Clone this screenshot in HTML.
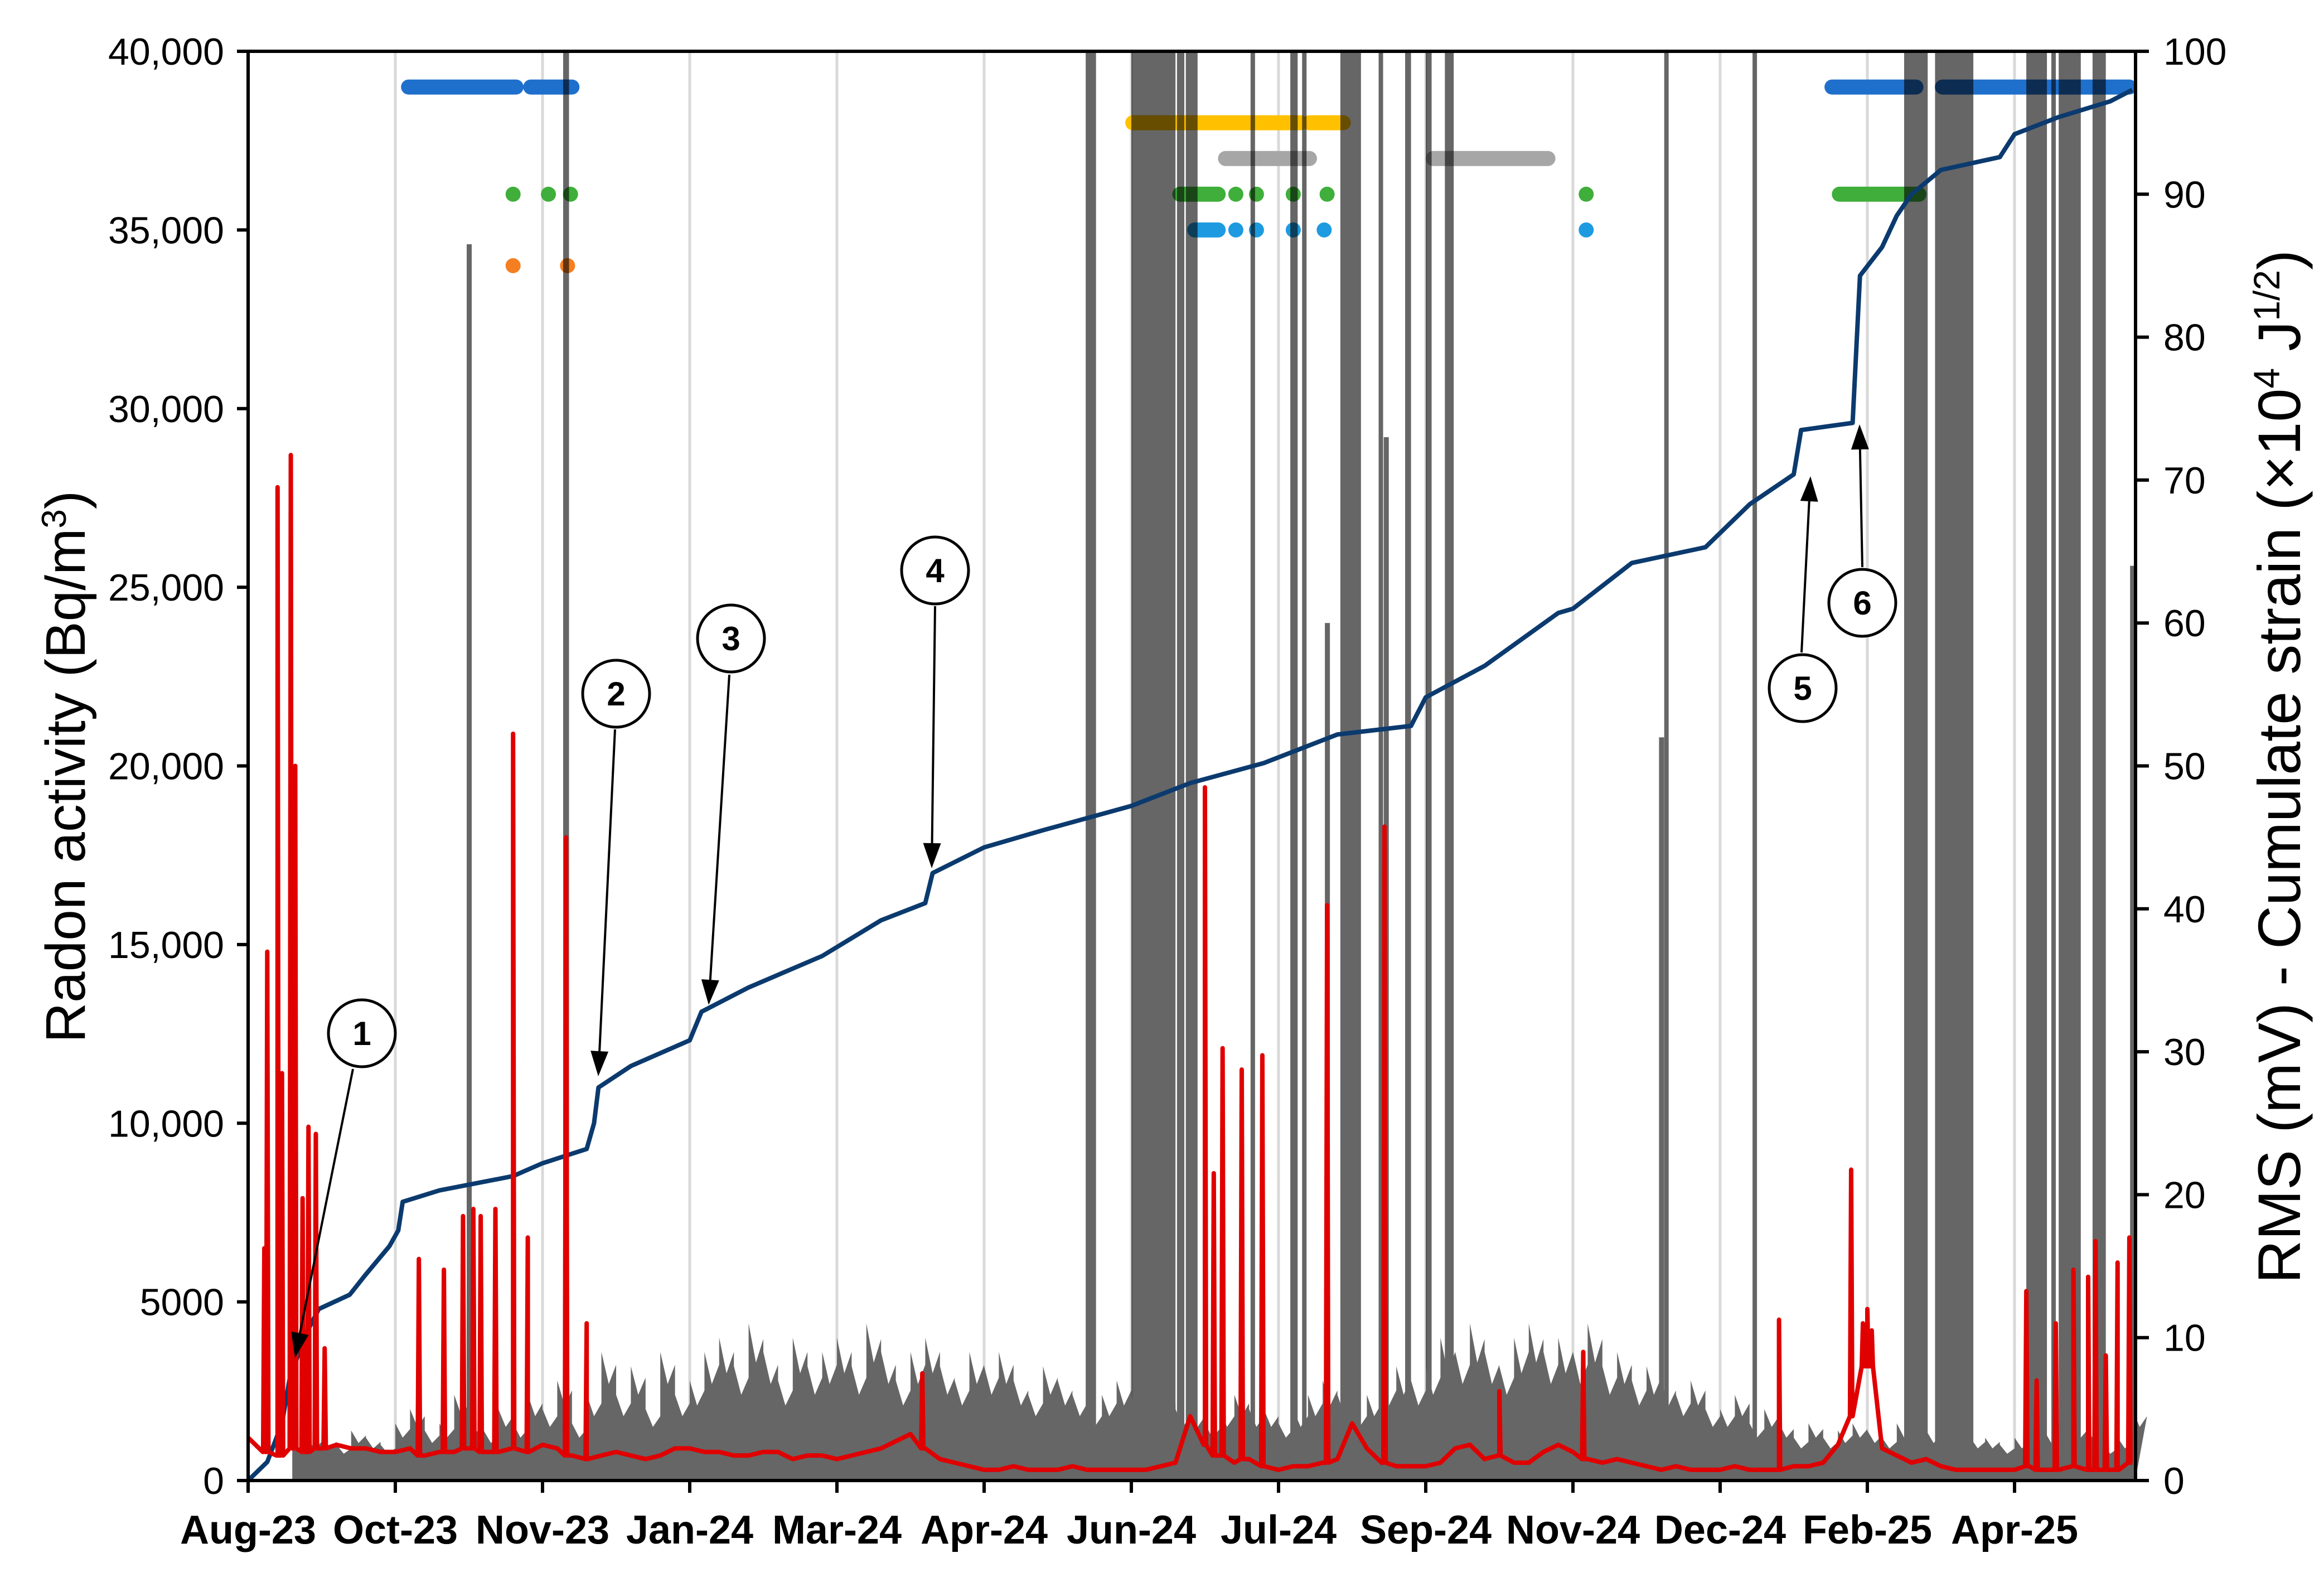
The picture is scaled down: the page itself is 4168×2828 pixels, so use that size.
<!DOCTYPE html>
<html><head><meta charset="utf-8"><style>
html,body{margin:0;padding:0;background:#fff;}
svg{display:block;font-family:"Liberation Sans",Arial,sans-serif;}
</style></head><body>
<svg id="chart" width="4168" height="2828" viewBox="0 0 4168 2828" xmlns="http://www.w3.org/2000/svg">
<g id="grid"></g>
<g id="markers"></g>
<g id="bars"></g>
<g id="gray"></g>
<g id="blue"></g>
<g id="red"></g>
<g id="axes"></g>
<g id="annot"></g>
<text transform="translate(152,1375) rotate(-90)" text-anchor="middle" font-size="100">Radon activity (Bq/m<tspan baseline-shift="super" font-size="62">3</tspan>)</text>
<text transform="translate(4125,1375) rotate(-90)" text-anchor="middle" font-size="108">RMS (mV) - Cumulate strain (×10<tspan baseline-shift="super" font-size="66">4</tspan> J<tspan baseline-shift="super" font-size="66">1/2</tspan>)</text>
</svg>
<script>
const xTickLabels=["Aug-23","Oct-23","Nov-23","Jan-24","Mar-24","Apr-24","Jun-24","Jul-24","Sep-24","Nov-24","Dec-24","Feb-25","Apr-25"];
const leftTicks=[0,5000,10000,15000,20000,25000,30000,35000,40000];
const leftTickLabels=["0","5000","10,000","15,000","20,000","25,000","30,000","35,000","40,000"];
const rightTicks=[0,10,20,30,40,50,60,70,80,90,100];
const strainT=[0,0.13,0.23,0.28,0.38,0.48,0.69,0.79,0.96,1.02,1.05,1.3,1.8,2.0,2.3,2.35,2.38,2.6,3.0,3.08,3.4,3.9,4.3,4.6,4.65,5.0,5.4,6.0,6.4,6.9,7.4,7.9,8.0,8.4,8.9,9.0,9.4,9.9,10.2,10.5,10.55,10.9,10.95,11.1,11.2,11.3,11.5,11.9,12.0,12.3,12.65,12.8];
const strainV=[0,1.3,4,7,10,12,13,14.3,16.4,17.5,19.5,20.3,21.3,22.2,23.2,25,27.5,29,30.8,32.8,34.5,36.7,39.2,40.4,42.5,44.3,45.5,47.2,48.8,50.2,52.2,52.8,54.8,57,60.7,61,64.2,65.3,68.3,70.4,73.5,74,84.3,86.3,88.5,90,91.7,92.6,94.2,95.4,96.5,97.3];
const radonBase=[1200,800,700,900,800,900,1000,900,900,800,800,900,700,800,800,900,800,800,900,800,1000,900,700,600,700,800,700,600,700,900,900,800,800,700,700,800,800,600,700,700,600,700,800,900,1100,1300,900,600,500,400,300,300,400,300,300,300,400,300,300,300,300,300,400,500,1800,1000,700,500,600,400,300,400,400,500,600,1600,900,500,400,400,400,500,900,1000,600,700,500,500,800,1000,800,600,500,600,500,400,300,400,300,300,300,400,300,300,300,400,400,500,1000,1800,3200,900,700,500,600,400,300,300,300,300,300,400,300,300,400,300,300,300,500];
const radonSpikeT=[0.11,0.13,0.2,0.23,0.29,0.32,0.37,0.41,0.46,0.52,1.16,1.33,1.46,1.53,1.58,1.68,1.8,1.9,2.16,2.3,4.58,6.5,6.56,6.62,6.75,6.89,7.33,7.72,8.5,9.07,10.4,10.89,10.97,11.0,11.03,12.08,12.15,12.28,12.4,12.5,12.55,12.62,12.7,12.78];
const radonSpikeV=[6500,14800,27800,11400,28700,20000,7900,9900,9700,3700,6200,5900,7400,7600,7400,7600,20900,6800,18000,4400,3000,19400,8600,12100,11500,11900,16100,18300,2500,3600,4500,8700,4400,4800,4200,5300,2800,4400,5900,5700,6700,3500,6100,6800];
const rmsBand=[0,0,0,2.5,3,3,2.5,3.5,3,2.5,4,5,3.5,4,6,4.5,3.5,5,4,6,5,7,4,6,9,6,8,5,9,6,7,9,10,8,11,9,7,10,8,9,10,8,11,9,7,9,10,8,7,9,8,9,7,6,8,7,6,5,6,7,6,5,6,5,5,4,5,6,5,5,4,5,6,7,6,5,6,7,8,7,8,10,9,11,9,8,10,11,9,10,9,11,8,9,7,8,7,6,7,5,5,6,4,5,4,3,4,3,3.5,4,3.5,3,4,3,3.5,3,2.5,3,3,2.5,3,4,3.5,3,4,3.5,2.5,3,5];
const satStart=[2.14,5.69,6.0,6.31,6.37,6.81,7.08,7.16,7.42,7.68,7.86,8.0,8.13,9.62,10.22,11.25,11.46,12.08,12.25,12.3,12.53];
const satEnd=[2.18,5.76,6.3,6.36,6.45,6.84,7.13,7.19,7.56,7.71,7.9,8.04,8.19,9.64,10.25,11.41,11.72,12.22,12.28,12.45,12.62];
const rmsSpikeT=[1.5,7.33,7.73,9.6,12.8];
const rmsSpikeV=[86.5,60,73,52,64];
const evBlue=[[1.09,1.82],[1.92,2.2],[10.76,11.33],[11.51,12.78]];
const evYellow=[[6.01,7.15],[7.21,7.44]];
const evGray=[[6.64,7.21],[8.05,8.83]];
const evGreen=[[1.8,1.8],[2.04,2.04],[2.19,2.19],[6.33,6.59],[6.71,6.71],[6.85,6.85],[7.1,7.1],[7.33,7.33],[9.09,9.09],[10.81,11.35]];
const evCyan=[[6.43,6.59],[6.71,6.71],[6.85,6.85],[7.1,7.1],[7.31,7.31],[9.09,9.09]];
const evOrange=[[1.8,1.8],[2.17,2.17]];

const X0=445,X1=3830,TW=264,Y0=2655,Y1=92;
const xs=t=>X0+t*TW;
const yL=v=>Y0-(v/40000)*(Y0-Y1);
const yR=v=>Y0-(v/100)*(Y0-Y1);
const NS="http://www.w3.org/2000/svg";
function mk(tag,parent,attrs){const e=document.createElementNS(NS,tag);for(const k in attrs)e.setAttribute(k,attrs[k]);document.getElementById(parent).appendChild(e);return e;}

xTickLabels.forEach((l,i)=>{if(i===0)return;
 const g=mk('line','grid',{x1:xs(i),x2:xs(i),y1:Y1,y2:Y0,stroke:'#d9d9d9','stroke-width':5});
 
 });

let d=`M${xs(0)},${Y0}`;
rmsBand.forEach((v,i)=>{const a=xs(i*0.1),b=xs(i*0.1+0.1);d+=`L${a},${yR(v)}L${(a+b)/2},${yR(v*0.75)}L${b},${yR(v*0.9)}`;});
d+=`L${xs(12.82)},${Y0}Z`;
const band=mk('path','gray',{d:d,fill:'#666666'});


rmsSpikeT.forEach((t,i)=>{const r=mk('rect','gray',{x:xs(t)-4,y:yR(rmsSpikeV[i]),width:9,height:Y0-yR(rmsSpikeV[i]),fill:'#666666'});
 
 });

function row(arr,val,color,name){arr.forEach(s=>{const l=mk('line','markers',{x1:xs(s[0]),x2:xs(s[1]),y1:yL(val),y2:yL(val),stroke:color,'stroke-width':27,'stroke-linecap':'round'});
 
 });}
row(evBlue,39000,'#1f6fcc','event-row-blue');
row(evYellow,38000,'#ffc000','event-row-yellow');
row(evGray,37000,'#a6a6a6','event-row-gray');
row(evGreen,36000,'#3fae3a','event-row-green');
row(evCyan,35000,'#1e9be0','event-row-cyan');
row(evOrange,34000,'#f47f20','event-row-orange');

satStart.forEach((s,i)=>{const r=mk('rect','bars',{x:xs(s),y:Y1,width:Math.max(8,xs(satEnd[i])-xs(s)),height:Y0-Y1,fill:'#000','fill-opacity':0.6});
 
 });

const bl=mk('polyline','blue',{points:strainT.map((t,i)=>`${xs(t)},${yR(strainV[i])}`).join(' '),fill:'none',stroke:'#0b3a6e','stroke-width':8,'stroke-linejoin':'round'});



let pts=radonBase.map((v,i)=>[i*0.1,v]);
radonSpikeT.forEach((t,i)=>{const b=radonBase[Math.min(radonBase.length-1,Math.round(t*10))];pts.push([t-0.008,b],[t,radonSpikeV[i]],[t+0.008,b]);});
pts.sort((a,b)=>a[0]-b[0]);
const rl=mk('polyline','red',{points:pts.map(p=>`${xs(Math.min(p[0],12.8))},${yL(p[1])}`).join(' '),fill:'none',stroke:'#e00000','stroke-width':8,'stroke-linejoin':'round'});



[[X0,Y1,X1,Y1,'top-axis-line'],[X0,Y1,X0,Y0,'left-axis-line'],[X0,Y0,X1,Y0,'x-axis-line'],[X1,Y1,X1,Y0,'right-axis-line']].forEach(a=>{
 const l=mk('line','axes',{x1:a[0],y1:a[1],x2:a[2],y2:a[3],stroke:'#000','stroke-width':6});
 
 });
leftTicks.forEach((v,i)=>{const y=yL(v);
 const l=mk('line','axes',{x1:X0-20,x2:X0,y1:y,y2:y,stroke:'#000','stroke-width':6});
 
 
 const t=mk('text','axes',{x:402,y:y+24,'text-anchor':'end','font-size':68});t.textContent=leftTickLabels[i];
 
 });
rightTicks.forEach(v=>{const y=yR(v);
 const l=mk('line','axes',{x1:X1,x2:X1+24,y1:y,y2:y,stroke:'#000','stroke-width':6});
 
 
 const t=mk('text','axes',{x:3880,y:y+24,'font-size':68});t.textContent=String(v);
 
 });
xTickLabels.forEach((lab,i)=>{const x=xs(i);
 const l=mk('line','axes',{x1:x,x2:x,y1:Y0,y2:Y0+22,stroke:'#000','stroke-width':6});
 
 
 const t=mk('text','axes',{x:x,y:2768,'text-anchor':'middle','font-size':72,'font-weight':'bold'});t.textContent=lab;
 
 });

const ann=[["1",649,1853,633,1917,529,2435],["2",1105,1244,1103,1308,1073,1930],["3",1311,1145,1308,1210,1271,1802],["4",1677,1023,1677,1087,1671,1557],["5",3233,1234,3231,1170,3247,854],["6",3340,1081,3340,1017,3335,761]];
ann.forEach(a=>{
 const c=mk('circle','annot',{cx:a[1],cy:a[2],r:60,fill:'#fff',stroke:'#000','stroke-width':5});
 
 
 const t=mk('text','annot',{x:a[1],y:a[2]+21,'text-anchor':'middle','font-size':60,'font-weight':'bold'});t.textContent=a[0];
 
 
 const dx=a[5]-a[3],dy=a[6]-a[4],L=Math.hypot(dx,dy),ux=dx/L,uy=dy/L,hl=45,hw=16;
 const bx=a[5]-ux*hl,by=a[6]-uy*hl;
 const ln=mk('line','annot',{x1:a[3],y1:a[4],x2:bx,y2:by,stroke:'#000','stroke-width':4});
 
 
 const hd=mk('polygon','annot',{points:`${a[5]},${a[6]} ${bx-uy*hw},${by+ux*hw} ${bx+uy*hw},${by-ux*hw}`,fill:'#000'});
 
 
});
</script>
</body></html>
